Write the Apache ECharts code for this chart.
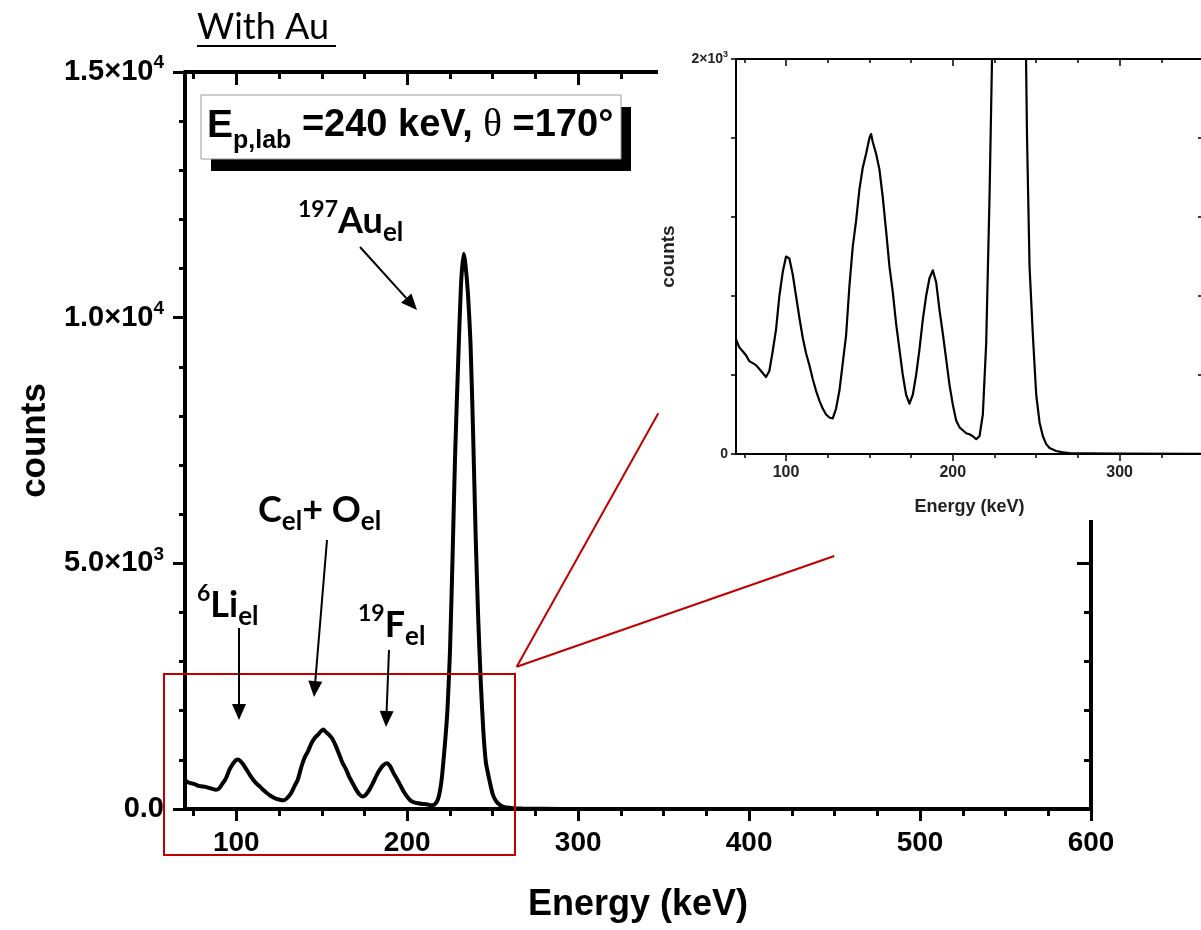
<!DOCTYPE html>
<html lang="en">
<head>
    <meta charset="UTF-8">
    <script src="https://cdn.jsdelivr.net/npm/echarts@6/dist/echarts.min.js"></script>
    <title>With Au</title>
    <style type="text/css">
        html, body { margin: 0; padding: 0; background: #fff; }
        #chart { width: 1201px; height: 930px; }
    </style>
</head>
<body>
<div id="chart"></div>
<script type="text/javascript">
    // spectrum (keV, counts)
    const energy = [70, 72, 74, 76, 78, 80, 82, 84, 86, 88, 90, 92, 94, 96, 98, 100, 101, 102, 104, 106,
        108, 110, 112, 114, 116, 118, 120, 122, 124, 126, 128, 130, 132, 134, 136, 138, 140, 142, 144, 146,
        148, 150, 151, 152, 154, 156, 158, 160, 162, 164, 166, 168, 170, 172, 174, 176, 178, 180, 182, 184,
        186, 188, 190, 192, 194, 196, 198, 200, 202, 204, 206, 208, 210, 212, 214, 216, 218, 220, 222, 223.5,
        225, 226.5, 228, 230, 231.5, 233, 234, 235.5, 237, 238.5, 240, 241.5, 243, 244.5, 246, 248, 250, 252,
        254, 256, 258, 262, 266, 270, 280, 300, 350, 400, 500, 600];
    const counts = [580, 540, 520, 500, 470, 460, 450, 430, 410, 390, 420, 520, 630, 800, 920, 1000, 1010, 990, 910, 800,
        690, 590, 510, 450, 380, 320, 270, 230, 200, 185, 180, 230, 320, 460, 600, 850, 1050, 1180, 1340, 1450,
        1520, 1600, 1620, 1580, 1520, 1440, 1300, 1130, 950, 820, 660, 530, 400, 300, 255, 300, 400, 530, 680, 800,
        890, 930, 870, 730, 610, 480, 350, 250, 170, 135, 120, 105, 100, 90, 75, 90, 200, 560, 1300, 2000,
        3200, 5100, 7200, 9300, 10700, 11300, 11100, 10500, 9500, 7700, 5600, 3900, 2600, 1600, 950, 600, 300, 160,
        90, 50, 30, 15, 8, 5, 3, 2, 1, 0, 0, 0];

    const xMajor = [100, 200, 300, 400, 500, 600];
    const xMinor = [75, 125, 150, 175, 225, 250, 275, 325, 350, 375, 425, 450, 475, 525, 550, 575];
    const insetMajor = [100, 200, 300];
    const insetMinor = [75, 125, 150, 175, 225, 250, 275, 325, 350];

    const AX = 'Liberation Sans';
    const ANN = 'Lato';
    const spectrum = energy.map((e, i) => [e, counts[i]]);

    function yLabel(v) {
        if (v === 0) return '{m|0.0}';
        const e = Math.floor(Math.log10(v));
        return '{m|' + (v / Math.pow(10, e)).toFixed(1) + '×10}{s|' + e + '}';
    }

    function arrow(x1, y1, x2, y2) {
        const a = Math.atan2(y2 - y1, x2 - x1);
        const L = 16, W = 7;
        const bx = x2 - L * Math.cos(a), by = y2 - L * Math.sin(a);
        const nx = -Math.sin(a) * W, ny = Math.cos(a) * W;
        return [
            {type: 'line', z: 30, shape: {x1: x1, y1: y1, x2: bx, y2: by}, style: {stroke: '#000', lineWidth: 2}},
            {type: 'polygon', z: 30, shape: {points: [[x2, y2], [bx + nx, by + ny], [bx - nx, by - ny]]}, style: {fill: '#000'}}
        ];
    }

    const annRich = {
        b: {fontFamily: ANN, fontWeight: 'bold', fontSize: 36, color: '#000'},
        sup: {fontFamily: ANN, fontWeight: 'bold', fontSize: 23, color: '#000', padding: [0, 0, 22, 0]},
        sub: {fontFamily: ANN, fontWeight: 'bold', fontSize: 26, color: '#000', padding: [24, 0, 0, 0]}
    };

    function annText(x, y, text) {
        return {type: 'text', z: 30, x: x, y: y, style: {text: text, rich: annRich, verticalAlign: 'middle', align: 'left'}};
    }

    const myChart = echarts.init(document.getElementById('chart'), null, {renderer: 'canvas'});

    const line4 = {show: true, onZero: false, lineStyle: {color: '#000', width: 4}};
    const line2 = {show: true, onZero: false, lineStyle: {color: '#000', width: 2}};

    const option = {
        animation: false,
        backgroundColor: '#fff',
        grid: [
            {left: 185, top: 72, width: 906, height: 737, outerBoundsMode: 'none'},
            {left: 185, top: 72, width: 906, height: 737, outerBoundsMode: 'none'},
            {left: 736, top: 59, width: 467, height: 395, outerBoundsMode: 'none'},
            {left: 736, top: 59, width: 467, height: 395, outerBoundsMode: 'none'}
        ],
        xAxis: [
            {
                type: 'value', gridIndex: 0, position: 'bottom', min: 70, max: 600,
                axisLine: line4, splitLine: {show: false},
                axisTick: {show: true, inside: false, length: 12, customValues: xMajor, lineStyle: {color: '#000', width: 3}},
                axisLabel: {customValues: xMajor, margin: 20, fontFamily: AX, fontWeight: 'bold', fontSize: 28, color: '#000'},
                name: 'Energy (keV)', nameLocation: 'middle', nameGap: 78,
                nameTextStyle: {fontFamily: AX, fontWeight: 'bold', fontSize: 36, color: '#000'}
            },
            {
                type: 'value', gridIndex: 0, position: 'top', min: 70, max: 600,
                axisLine: line4, splitLine: {show: false}, axisLabel: {show: false},
                axisTick: {show: true, inside: true, length: 13, customValues: xMajor, lineStyle: {color: '#000', width: 3}}
            },
            {
                type: 'value', gridIndex: 1, position: 'bottom', min: 70, max: 600,
                axisLine: {show: false, onZero: false}, splitLine: {show: false}, axisLabel: {show: false},
                axisTick: {show: true, inside: false, length: 7, customValues: xMinor, lineStyle: {color: '#000', width: 3}}
            },
            {
                type: 'value', gridIndex: 1, position: 'top', min: 70, max: 600,
                axisLine: {show: false, onZero: false}, splitLine: {show: false}, axisLabel: {show: false},
                axisTick: {show: true, inside: true, length: 7, customValues: xMinor, lineStyle: {color: '#000', width: 3}}
            },
            {
                type: 'value', gridIndex: 2, position: 'bottom', min: 70, max: 350, z: 20,
                axisLine: line2, splitLine: {show: false},
                axisTick: {show: true, inside: false, length: 7, customValues: insetMajor, lineStyle: {color: '#000', width: 1.5}},
                axisLabel: {customValues: insetMajor, margin: 11, fontFamily: AX, fontWeight: 'bold', fontSize: 16, color: '#222'},
                name: 'Energy (keV)', nameLocation: 'middle', nameGap: 44,
                nameTextStyle: {fontFamily: AX, fontWeight: 'bold', fontSize: 18, color: '#222'}
            },
            {
                type: 'value', gridIndex: 2, position: 'top', min: 70, max: 350, z: 20,
                axisLine: line2, splitLine: {show: false}, axisLabel: {show: false},
                axisTick: {show: true, inside: true, length: 7, customValues: insetMajor, lineStyle: {color: '#000', width: 1.5}}
            },
            {
                type: 'value', gridIndex: 3, position: 'bottom', min: 70, max: 350, z: 20,
                axisLine: {show: false, onZero: false}, splitLine: {show: false}, axisLabel: {show: false},
                axisTick: {show: true, inside: false, length: 4, customValues: insetMinor, lineStyle: {color: '#000', width: 1.5}}
            },
            {
                type: 'value', gridIndex: 3, position: 'top', min: 70, max: 350, z: 20,
                axisLine: {show: false, onZero: false}, splitLine: {show: false}, axisLabel: {show: false},
                axisTick: {show: true, inside: true, length: 4, customValues: insetMinor, lineStyle: {color: '#000', width: 1.5}}
            }
        ],
        yAxis: [
            {
                type: 'value', gridIndex: 0, position: 'left', min: 0, max: 15000, interval: 5000,
                axisLine: line4, splitLine: {show: false},
                axisTick: {show: true, inside: false, length: 12, lineStyle: {color: '#000', width: 3}},
                minorTick: {show: true, splitNumber: 5, length: 6, lineStyle: {color: '#000', width: 3}},
                axisLabel: {
                    margin: 21, formatter: yLabel,
                    rich: {
                        m: {fontFamily: AX, fontWeight: 'bold', fontSize: 29, color: '#000'},
                        s: {fontFamily: AX, fontWeight: 'bold', fontSize: 19, color: '#000', padding: [0, 0, 18, 0]}
                    }
                },
                name: 'counts', nameLocation: 'middle', nameGap: 132,
                nameTextStyle: {fontFamily: AX, fontWeight: 'bold', fontSize: 35, color: '#000'}
            },
            {
                type: 'value', gridIndex: 0, position: 'right', min: 0, max: 15000, interval: 5000,
                axisLine: line4, splitLine: {show: false}, axisLabel: {show: false},
                axisTick: {show: true, inside: true, length: 14, lineStyle: {color: '#000', width: 3}},
                minorTick: {show: true, splitNumber: 5, length: 7, lineStyle: {color: '#000', width: 3}}
            },
            {type: 'value', gridIndex: 1, show: false, min: 0, max: 1},
            {
                type: 'value', gridIndex: 2, position: 'left', min: 0, max: 2000, interval: 400, z: 20,
                axisLine: line2, splitLine: {show: false},
                axisTick: {show: true, inside: false, length: 5, lineStyle: {color: '#000', width: 1.5}},
                axisLabel: {
                    margin: 8,
                    formatter: function (v) {
                        if (v === 0) return '{m|0}';
                        if (v === 2000) return '{m|2×10}{s|3}';
                        return '';
                    },
                    rich: {
                        m: {fontFamily: AX, fontWeight: 'bold', fontSize: 14, color: '#222'},
                        s: {fontFamily: AX, fontWeight: 'bold', fontSize: 9, color: '#222', padding: [0, 0, 9, 0]}
                    }
                },
                name: 'counts', nameLocation: 'middle', nameGap: 58,
                nameTextStyle: {fontFamily: AX, fontWeight: 'bold', fontSize: 19, color: '#222'}
            },
            {
                type: 'value', gridIndex: 2, position: 'right', min: 0, max: 2000, interval: 400, z: 20,
                axisLine: line2, splitLine: {show: false}, axisLabel: {show: false},
                axisTick: {show: true, inside: true, length: 5, lineStyle: {color: '#000', width: 1.5}}
            },
            {type: 'value', gridIndex: 3, show: false, min: 0, max: 1}
        ],
        series: [
            {
                type: 'line', xAxisIndex: 0, yAxisIndex: 0, data: spectrum, z: 2,
                showSymbol: false, smooth: 0.2, lineStyle: {color: '#000', width: 4, join: 'round'}
            },
            {
                type: 'line', xAxisIndex: 4, yAxisIndex: 3, data: spectrum, z: 20, clip: true,
                showSymbol: false, lineStyle: {color: '#000', width: 2.2, join: 'round'}
            }
        ],
        graphic: [
            // white background of the pasted inset
            {type: 'rect', z: 10, shape: {x: 658, y: 0, width: 543, height: 520}, style: {fill: '#fff'}},
            // zoom box and guide lines
            {type: 'rect', z: 15, shape: {x: 164, y: 674, width: 351, height: 181}, style: {fill: 'none', stroke: '#c00000', lineWidth: 2}},
            {type: 'line', z: 15, shape: {x1: 516.7, y1: 666.7, x2: 658.3, y2: 413.3}, style: {stroke: '#c00000', lineWidth: 2}},
            {type: 'line', z: 15, shape: {x1: 516.7, y1: 666.7, x2: 834.3, y2: 556}, style: {stroke: '#c00000', lineWidth: 2}},
            // title
            {type: 'text', z: 30, x: 197, y: 27, style: {text: 'With Au', fontFamily: ANN, fontSize: 36, fill: '#000', verticalAlign: 'middle'}},
            {type: 'line', z: 30, shape: {x1: 197, y1: 46, x2: 336, y2: 46}, style: {stroke: '#000', lineWidth: 2}},
            // beam box
            {type: 'rect', z: 25, shape: {x: 211, y: 107, width: 420, height: 64}, style: {fill: '#000'}},
            {type: 'rect', z: 26, shape: {x: 201, y: 95, width: 420, height: 64}, style: {fill: '#fff', stroke: '#999', lineWidth: 1}},
            {
                type: 'text', z: 30, x: 207, y: 126,
                style: {
                    text: '{e|E}{sub|p,lab}{t| =240 keV, }{th|θ}{t| =170°}', verticalAlign: 'middle',
                    rich: {
                        e: {fontFamily: AX, fontWeight: 'bold', fontSize: 39, color: '#000'},
                        t: {fontFamily: AX, fontWeight: 'bold', fontSize: 38, color: '#000'},
                        th: {fontFamily: 'Liberation Serif', fontSize: 39, color: '#000'},
                        sub: {fontFamily: AX, fontWeight: 'bold', fontSize: 25, color: '#000', padding: [30, 0, 0, 0]}
                    }
                }
            },
            // peak labels
            annText(298, 221, '{sup|197}{b|Au}{sub|el}'),
            annText(258, 510, '{b|C}{sub|el}{b|+ O}{sub|el}'),
            annText(197, 605, '{sup|6}{b|Li}{sub|el}'),
            annText(358, 625, '{sup|19}{b|F}{sub|el}')
        ].concat(arrow(360, 247, 417, 310), arrow(327, 540, 314, 697),
            arrow(239, 628, 239, 720), arrow(389, 650, 386, 727))
    };

    myChart.setOption(option);
</script>
</body>
</html>
